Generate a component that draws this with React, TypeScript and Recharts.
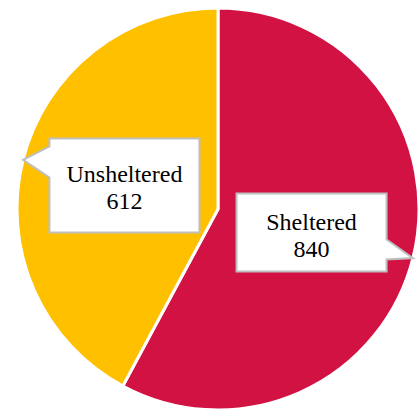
import React from 'react';
import { PieChart, Pie, Cell } from 'recharts';

const categories = ['Sheltered', 'Unsheltered'];
const values = [840, 612];
const colors = ['#D11242', '#FFC000'];

const data = categories.map((name, i) => ({ name, value: values[i] }));

// callout box geometry per slice (size, pointer base offsets from box top)
const boxStyles: Record<string, { w: number; h: number; b0: number; b1: number }> = {
  Sheltered: { w: 150, h: 78, b0: 46, b1: 66 },
  Unsheltered: { w: 150, h: 94, b0: 8, b1: 39 },
};

const RAD = Math.PI / 180;
const serif = '"Liberation Serif", "Times New Roman", Times, serif';

const CalloutLabel = (props: any) => {
  const { cx, cy, midAngle, outerRadius, name, value } = props;
  const st = boxStyles[name];
  const bx = cx + outerRadius * 0.48 * Math.cos(-midAngle * RAD);
  const by = cy + outerRadius * 0.48 * Math.sin(-midAngle * RAD);
  const tx = cx + outerRadius * Math.cos(-midAngle * RAD);
  const ty = cy + outerRadius * Math.sin(-midAngle * RAD);
  const l = bx - st.w / 2;
  const r = bx + st.w / 2;
  const t = by - st.h / 2;
  const b = by + st.h / 2;
  let d: string;
  if (tx < l) {
    d = `M${l},${t} L${r},${t} L${r},${b} L${l},${b} L${l},${t + st.b1} L${tx},${ty} L${l},${t + st.b0} Z`;
  } else {
    d = `M${l},${t} L${r},${t} L${r},${t + st.b0} L${tx},${ty} L${r},${t + st.b1} L${r},${b} L${l},${b} Z`;
  }
  return (
    <g>
      <path d={d} fill="#FFFFFF" stroke="#BFBFBF" strokeWidth={2} />
      <text
        x={bx}
        y={by - 3}
        textAnchor="middle"
        style={{ fontFamily: serif, fontSize: 24 }}
        fill="#000000"
      >
        {name}
      </text>
      <text
        x={bx}
        y={by + 24}
        textAnchor="middle"
        style={{ fontFamily: serif, fontSize: 24 }}
        fill="#000000"
      >
        {value}
      </text>
    </g>
  );
};

export default function App() {
  return (
    <div style={{ position: 'absolute', left: 0, top: 0, width: 419, height: 410, background: '#fff', fontFamily: serif }}>
      <PieChart width={419} height={410} margin={{ top: 0, right: 0, bottom: 0, left: 0 }}>
        <Pie
          data={data}
          dataKey="value"
          nameKey="name"
          cx={218}
          cy={209}
          innerRadius={0}
          outerRadius={201}
          startAngle={90}
          endAngle={-270}
          stroke="#FFFFFF"
          strokeWidth={3}
          isAnimationActive={false}
          labelLine={false}
          label={CalloutLabel}
        >
          {data.map((d, i) => (
            <Cell key={d.name} fill={colors[i]} />
          ))}
        </Pie>
      </PieChart>
    </div>
  );
}
